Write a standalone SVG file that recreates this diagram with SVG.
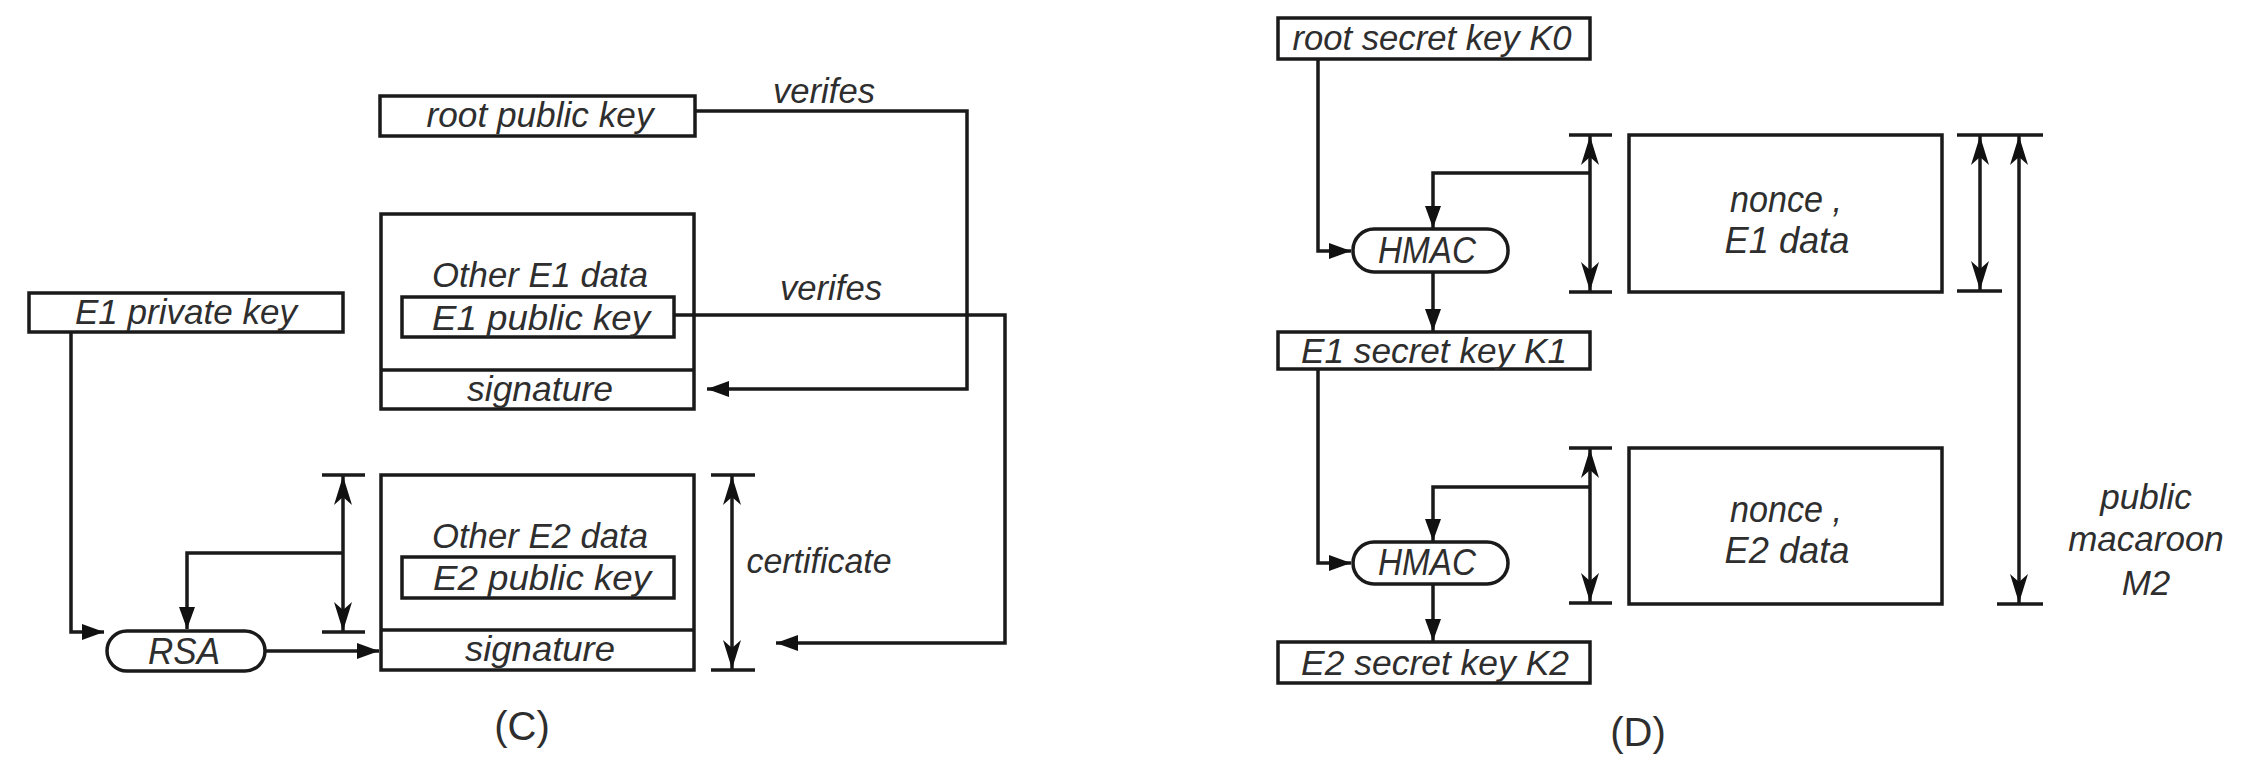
<svg xmlns="http://www.w3.org/2000/svg" width="2248" height="762" viewBox="0 0 2248 762">
<style>
  .box { fill: #ffffff; stroke: #1a1a1a; stroke-width: 3.5; }
  .ln { fill: none; stroke: #1a1a1a; stroke-width: 3.5; }
  .lbl { font-family: "Liberation Sans", Arial, sans-serif; font-style: italic; font-size: 35px; fill: #2e2e2e; text-anchor: middle; }
  .big { font-size: 37px; }
  .cap { font-family: "Liberation Sans", Arial, sans-serif; font-size: 40px; fill: #2e2e2e; text-anchor: middle; }
</style>
<defs>
  <marker id="arr" markerUnits="userSpaceOnUse" markerWidth="24" markerHeight="20" refX="22" refY="10" orient="auto">
    <path d="M0,2 L22,10 L0,18 z" fill="#111"/>
  </marker>
  <marker id="dim" markerUnits="userSpaceOnUse" markerWidth="30" markerHeight="22" refX="29" refY="11" orient="auto-start-reverse">
    <path d="M0,2 L29,11 L0,20 L8,11 z" fill="#111"/>
  </marker>
</defs>
<rect width="2248" height="762" fill="#ffffff"/>

<!-- Panel C nodes -->
<g id="root-public-key">
  <rect class="box" x="380" y="96" width="315" height="40"/>
  <text class="lbl" x="540" y="127" textLength="227" lengthAdjust="spacingAndGlyphs">root public key</text>
</g>
<g id="e1-certificate">
  <rect class="box" x="381" y="214" width="313" height="195"/>
  <line class="ln" x1="381" y1="370" x2="694" y2="370"/>
  <text class="lbl" x="540" y="287" textLength="216" lengthAdjust="spacingAndGlyphs">Other E1 data</text>
  <text class="lbl" x="540" y="401" textLength="146" lengthAdjust="spacingAndGlyphs">signature</text>
</g>
<g id="e1-public-key">
  <rect class="box" x="402" y="297" width="272" height="40"/>
  <text class="lbl" x="541" y="330" textLength="218" lengthAdjust="spacingAndGlyphs">E1 public key</text>
</g>
<g id="e1-private-key">
  <rect class="box" x="29" y="293" width="314" height="39"/>
  <text class="lbl" x="186" y="324" textLength="222" lengthAdjust="spacingAndGlyphs">E1 private key</text>
</g>
<g id="e2-certificate">
  <rect class="box" x="381" y="475" width="313" height="195"/>
  <line class="ln" x1="381" y1="630" x2="694" y2="630"/>
  <text class="lbl" x="540" y="548" textLength="216" lengthAdjust="spacingAndGlyphs">Other E2 data</text>
  <text class="lbl" x="540" y="661" textLength="150" lengthAdjust="spacingAndGlyphs">signature</text>
</g>
<g id="e2-public-key">
  <rect class="box" x="402" y="557" width="272" height="41"/>
  <text class="lbl" x="542" y="590" textLength="218" lengthAdjust="spacingAndGlyphs">E2 public key</text>
</g>
<g id="rsa">
  <rect class="box" x="107" y="631" width="158" height="40" rx="20" ry="20"/>
  <text class="lbl big" x="184" y="664" textLength="72" lengthAdjust="spacingAndGlyphs">RSA</text>
</g>

<!-- Panel D nodes -->
<g id="root-secret-key-k0">
  <rect class="box" x="1278" y="18" width="312" height="41"/>
  <text class="lbl" x="1432" y="50" textLength="279" lengthAdjust="spacingAndGlyphs">root secret key K0</text>
</g>
<g id="hmac1">
  <rect class="box" x="1353" y="229" width="155" height="43" rx="21" ry="21"/>
  <text class="lbl big" x="1427" y="263" textLength="98" lengthAdjust="spacingAndGlyphs">HMAC</text>
</g>
<g id="nonce-e1">
  <rect class="box" x="1629" y="135" width="313" height="157"/>
  <text class="lbl big" x="1786" y="212" textLength="112" lengthAdjust="spacingAndGlyphs">nonce ,</text>
  <text class="lbl big" x="1787" y="253" textLength="125" lengthAdjust="spacingAndGlyphs">E1 data</text>
</g>
<g id="e1-secret-key-k1">
  <rect class="box" x="1278" y="332" width="312" height="37"/>
  <text class="lbl" x="1434" y="363" textLength="266" lengthAdjust="spacingAndGlyphs">E1 secret key K1</text>
</g>
<g id="hmac2">
  <rect class="box" x="1353" y="542" width="155" height="42" rx="21" ry="21"/>
  <text class="lbl big" x="1427" y="575" textLength="98" lengthAdjust="spacingAndGlyphs">HMAC</text>
</g>
<g id="nonce-e2">
  <rect class="box" x="1629" y="448" width="313" height="156"/>
  <text class="lbl big" x="1786" y="522" textLength="112" lengthAdjust="spacingAndGlyphs">nonce ,</text>
  <text class="lbl big" x="1787" y="563" textLength="125" lengthAdjust="spacingAndGlyphs">E2 data</text>
</g>
<g id="e2-secret-key-k2">
  <rect class="box" x="1278" y="642" width="312" height="41"/>
  <text class="lbl" x="1435" y="675" textLength="268" lengthAdjust="spacingAndGlyphs">E2 secret key K2</text>
</g>

<!-- Connectors -->
<g id="connectors">
  <!-- Panel C -->
  <path class="ln" d="M71,332 V632 H104" marker-end="url(#arr)"/>
  <path class="ln" d="M343,553 H187 V629" marker-end="url(#arr)"/>
  <path class="ln" d="M265,651 H379" marker-end="url(#arr)"/>
  <path class="ln" d="M695,111 H967 V389 H707" marker-end="url(#arr)"/>
  <path class="ln" d="M674,315 H1005 V643 H776" marker-end="url(#arr)"/>
  <line class="ln" x1="343" y1="476" x2="343" y2="631" marker-start="url(#dim)" marker-end="url(#dim)"/>
  <path class="ln" d="M322,475 H365 M322,632 H365"/>
  <line class="ln" x1="732" y1="476" x2="732" y2="669" marker-start="url(#dim)" marker-end="url(#dim)"/>
  <path class="ln" d="M711,475 H755 M711,670 H755"/>
  <text class="lbl" x="824" y="103" textLength="102" lengthAdjust="spacingAndGlyphs">verifes</text>
  <text class="lbl" x="831" y="300" textLength="102" lengthAdjust="spacingAndGlyphs">verifes</text>
  <text class="lbl" x="819" y="573" textLength="145" lengthAdjust="spacingAndGlyphs">certificate</text>

  <!-- Panel D -->
  <path class="ln" d="M1318,59 V251 H1351" marker-end="url(#arr)"/>
  <path class="ln" d="M1590,173 H1433 V228" marker-end="url(#arr)"/>
  <path class="ln" d="M1433,272 V331" marker-end="url(#arr)"/>
  <path class="ln" d="M1318,369 V563 H1351" marker-end="url(#arr)"/>
  <path class="ln" d="M1590,487 H1433 V541" marker-end="url(#arr)"/>
  <path class="ln" d="M1433,584 V641" marker-end="url(#arr)"/>
  <line class="ln" x1="1590" y1="136" x2="1590" y2="291" marker-start="url(#dim)" marker-end="url(#dim)"/>
  <path class="ln" d="M1569,135 H1612 M1569,292 H1612"/>
  <line class="ln" x1="1590" y1="449" x2="1590" y2="602" marker-start="url(#dim)" marker-end="url(#dim)"/>
  <path class="ln" d="M1569,448 H1612 M1569,603 H1612"/>
  <line class="ln" x1="1980" y1="136" x2="1980" y2="290" marker-start="url(#dim)" marker-end="url(#dim)"/>
  <line class="ln" x1="2019" y1="136" x2="2019" y2="603" marker-start="url(#dim)" marker-end="url(#dim)"/>
  <path class="ln" d="M1957,135 H2043 M1957,291 H2002 M1997,604 H2043"/>
  <text class="lbl" x="2146" y="509">public</text>
  <text class="lbl" x="2146" y="551">macaroon</text>
  <text class="lbl" x="2146" y="595">M2</text>
</g>

<text class="cap" x="522" y="740">(C)</text>
<text class="cap" x="1638" y="746">(D)</text>
</svg>
